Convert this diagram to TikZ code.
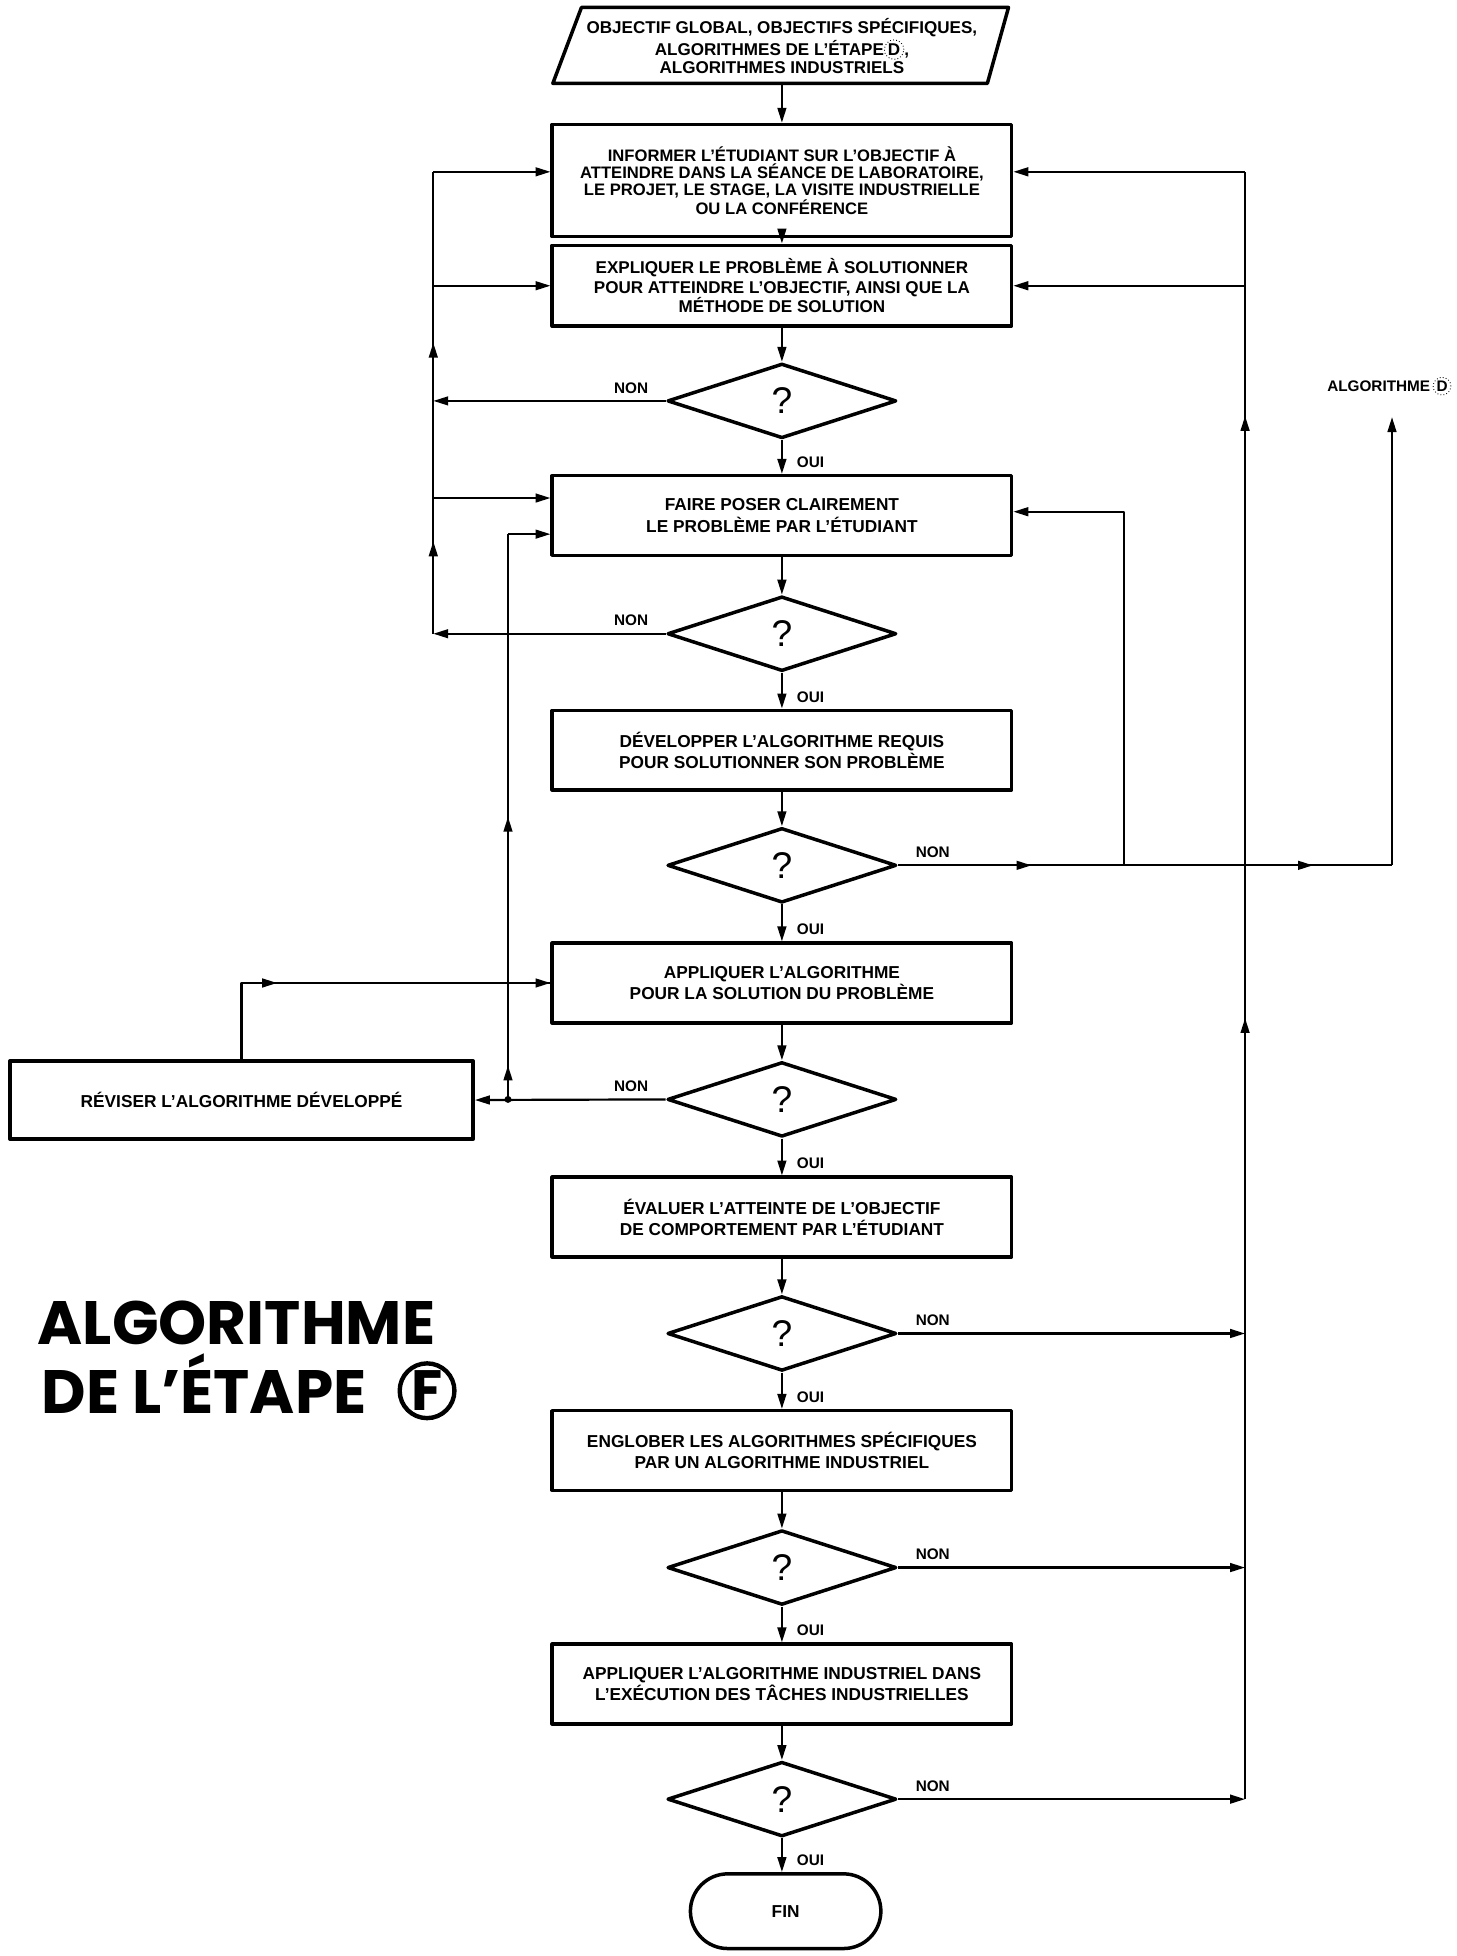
\documentclass[tikz,border=0pt]{standalone}
\usepackage{fontspec}
\setmainfont{Liberation Sans}
\newfontfamily\titrefont{Poppins}
\usetikzlibrary{arrows.meta,shapes.geometric,decorations.markings}
\newcommand\cercleD{\tikz[baseline=(d.base)]\node[draw,circle,densely dotted,line width=.4pt,inner sep=.4pt](d){D};}
\begin{document}
\begin{tikzpicture}[x=.02cm, y=-.02cm, >={Triangle[length=2.4mm,width=1.4mm]}, line join=round,
	font=\bfseries\fontsize{7.9}{9.7}\selectfont,
	boite/.style={draw, line width=1.6pt, minimum width=7.38cm, minimum height=1.28cm, align=center, inner sep=2pt},
	test/.style={draw, diamond, line width=1.6pt, minimum width=3.68cm, minimum height=1.2cm, inner sep=0pt, font=\fontsize{17}{17}\selectfont},
	lien/.style={line width=1pt},
	fleches/.style 2 args={postaction={decorate}, decoration={markings, mark=at position #1 with {\arrow{>}}, mark=at position #2 with {\arrow{>}}}},
	etiq/.style={font=\bfseries\fontsize{7}{8}\selectfont, inner sep=1pt}]
	\useasboundingbox (0,0) rectangle (1170,1571);
	\def\xm{628}
	% entree
	\draw[line width=1.6pt] (467,6) -- (810,6) -- (793,67) -- (444,67) -- cycle;
	\node[align=center, inner sep=0pt, font=\bfseries\fontsize{7.8}{8.1}\selectfont] (entree) at (\xm,37)
	{OBJECTIF GLOBAL, OBJECTIFS SPÉCIFIQUES,\\ALGORITHMES DE L'ÉTAPE\cercleD,\\ALGORITHMES INDUSTRIELS};
	% boites et tests
	\node[boite, minimum height=1.8cm, font=\bfseries\fontsize{7.6}{7.8}\selectfont] (b1) at (\xm,145)
	{INFORMER L'ÉTUDIANT SUR L'OBJECTIF À\\ATTEINDRE DANS LA SÉANCE DE LABORATOIRE,\\LE PROJET, LE STAGE, LA VISITE INDUSTRIELLE\\OU LA CONFÉRENCE};
	\node[boite, minimum height=1.3cm, font=\bfseries\fontsize{7.8}{8.9}\selectfont] (b2) at (\xm,229.5)
	{EXPLIQUER LE PROBLÈME À SOLUTIONNER\\POUR ATTEINDRE L'OBJECTIF, AINSI QUE LA\\MÉTHODE DE SOLUTION};
	\node[test] (t1) at (\xm,322) {?};
	\node[boite] (b3) at (\xm,414) {FAIRE POSER CLAIREMENT\\LE PROBLÈME PAR L'ÉTUDIANT};
	\node[test] (t2) at (\xm,509) {?};
	\node[boite] (b4) at (\xm,602.5) {DÉVELOPPER L'ALGORITHME REQUIS\\POUR SOLUTIONNER SON PROBLÈME};
	\node[test] (t3) at (\xm,695) {?};
	\node[boite] (b5) at (\xm,789.5) {APPLIQUER L'ALGORITHME\\POUR LA SOLUTION DU PROBLÈME};
	\node[test] (t4) at (\xm,883) {?};
	\node[boite, minimum width=7.44cm, minimum height=1.26cm] (rev) at (194,883.5) {RÉVISER L'ALGORITHME DÉVELOPPÉ};
	\node[boite] (b6) at (\xm,977.5) {ÉVALUER L'ATTEINTE DE L'OBJECTIF\\DE COMPORTEMENT PAR L'ÉTUDIANT};
	\node[test] (t5) at (\xm,1071) {?};
	\node[boite] (b7) at (\xm,1165) {ENGLOBER LES ALGORITHMES SPÉCIFIQUES\\PAR UN ALGORITHME INDUSTRIEL};
	\node[test] (t6) at (\xm,1259) {?};
	\node[boite] (b8) at (\xm,1352.5) {APPLIQUER L'ALGORITHME INDUSTRIEL DANS\\L'EXÉCUTION DES TÂCHES INDUSTRIELLES};
	\node[test] (t7) at (\xm,1445) {?};
	\node[draw, line width=1.6pt, rounded corners=.6cm, minimum width=3.06cm, minimum height=1.2cm] (fin) at (631,1535) {FIN};
	% titre
	\node[anchor=base west, inner sep=0pt, font=\titrefont\bfseries\fontsize{28}{28}\selectfont] (titre1) at (30,1080) {ALGORITHME};
	\node[anchor=base west, inner sep=0pt, font=\titrefont\bfseries\fontsize{28}{28}\selectfont] (titre2) at (33,1135) {DE L’ÉTAPE};
	\node[draw, circle, line width=2pt, minimum size=.88cm, inner sep=0pt, font=\titrefont\bfseries\fontsize{26}{26}\selectfont] (titreF) at (343,1117) {F};
	% points de passage
	\path
	(\xm,67) coordinate (pB)
	(348,138) coordinate (g1)
	(348,400) coordinate (g3)
	(348,509) coordinate (g2)
	(408,429) coordinate (h1)
	(408,883) coordinate (h2)
	(1000,138) coordinate (r1)
	(1000,1445) coordinate (r2)
	(903,695) coordinate (k)
	(903,411) coordinate (k1)
	(1118,695) coordinate (e)
	(1118,335) coordinate (e1)
	;
	% ligne principale
	\draw[lien,->] (pB) -- (b1);
	\foreach \a/\b in {b1/b2,b2/t1,t1/b3,b3/t2,t2/b4,b4/t3,t3/b5,b5/t4,t4/b6,b6/t5,t5/b7,b7/t6,t6/b8,b8/t7,t7/fin}
	\draw[lien,->] (\a.south) -- (\a.south|-\b.north);
	\foreach \b [count=\i] in {b3,b4,b5,b6,b7,b8,fin}
	\path (\xm,0|-\b.north) ++(10,-3) node[etiq, anchor=south west] (oui\i) {OUI};
	\foreach \t in {t1,t2,t4}
	\path (\t.west) ++(-12,-4) node[etiq, anchor=south east] (non\t) {NON};
	\foreach \t in {t3,t5,t6,t7}
	\path (\t.east) ++(12,-4) node[etiq, anchor=south west] (non\t) {NON};
	% retours a gauche
	\draw[lien,->] (t1.west) -- (t1.west-|g1);
	\draw[lien,->] (t2.west) -- (g2);
	\draw[lien, fleches={0.2}{0.63}] (g2) -- (g1);
	\draw[lien,->] (g1) -- (g1-|b1.west);
	\draw[lien,->] (g1|-b2.west) -- (b2.west);
	\draw[lien,->] (g3) -- (g3-|b3.west);
	\draw[lien,->] (t4.west) -- (rev.east);
	\fill (h2) circle (2.8);
	\draw[lien, fleches={0.06}{0.5}] (h2) -- (h1);
	\draw[lien,->] (h1) -- (h1-|b3.west);
	\draw[lien, fleches={0.29}{1}] (rev.north) |- (b5.west);
	% retours a droite
	\foreach \t in {t5,t6,t7} \draw[lien,->] (\t.east) -- (\t.east-|r1);
	\draw[lien, fleches={0.48}{0.85}] (r2) -- (r1);
	\draw[lien,->] (r1) -- (r1-|b1.east);
	\draw[lien,->] (r1|-b2.east) -- (b2.east);
	\draw[lien, fleches={0.27}{0.84}] (t3.east) -- (e);
	\draw[lien,->] (e) -- (e1);
	\draw[lien,->] (k) -- (k1) -- (k1-|b3.east);
	\node[etiq, anchor=south east, inner sep=0pt] (algD) at (1166,318) {ALGORITHME\,\cercleD};
\end{tikzpicture}
\end{document}
